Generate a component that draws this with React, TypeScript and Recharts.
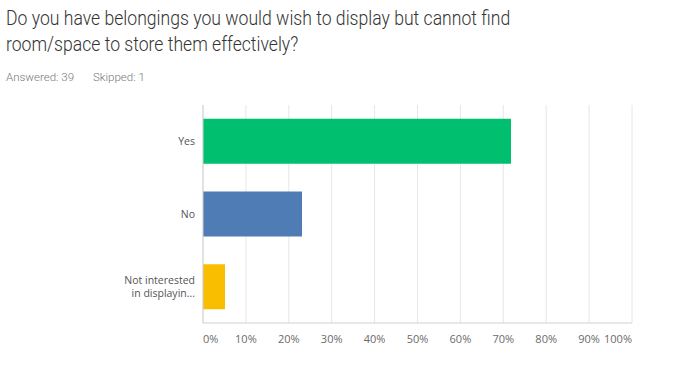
import React from 'react';
import { BarChart, Bar, XAxis, YAxis, CartesianGrid, Cell } from 'recharts';

const categories = ['Yes', 'No', 'Not interested\nin displayin...'];
const percents = [71.79, 23.08, 5.13];
const colors = ['#00BF6F', '#507CB6', '#F9BE00'];
const xTicks = [0, 10, 20, 30, 40, 50, 60, 70, 80, 90, 100];
const titleLines = ['Do you have belongings you would wish to display but cannot find', 'room/space to store them effectively?'];
const answeredText = 'Answered: 39';
const skippedText = 'Skipped: 1';

const data = categories.map((name, i) => ({ name, value: percents[i] }));

const XTick = (props: any) => {
  const { x, y, payload } = props;
  const v = payload.value;
  const anchor = v === 0 ? 'start' : v === 100 ? 'end' : 'middle';
  return (
    <text x={x} y={y} dy={12} textAnchor={anchor} fontSize={11} fill="#6b6b6b" fontFamily="'Open Sans', sans-serif">
      {v + '%'}
    </text>
  );
};

const YTick = (props: any) => {
  const { x, y, payload } = props;
  const lines = String(payload.value).split('\n');
  const lh = 13;
  const start = -((lines.length - 1) * lh) / 2;
  return (
    <text x={x} y={y} textAnchor="end" fontSize={10.5} fill="#555" fontFamily="'Open Sans', sans-serif">
      {lines.map((l, i) => (
        <tspan key={i} x={x} dy={i === 0 ? start + 4 : lh}>{l}</tspan>
      ))}
    </text>
  );
};

export default function App() {
  return (
    <div style={{ position: 'fixed', left: 0, top: 0, width: 679, height: 365, background: '#fff', overflow: 'hidden' }}>
      <div style={{ position: 'absolute', left: 6, top: 5, fontFamily: "Roboto, sans-serif", fontWeight: 300, fontSize: 20, lineHeight: '26px', color: '#333', whiteSpace: 'nowrap', transform: 'scaleX(0.88)', transformOrigin: '0 0' }}>
        {titleLines.map((l, i) => <div key={i}>{l}</div>)}
      </div>
      <div style={{ position: 'absolute', left: 6, top: 70, fontFamily: "Roboto, sans-serif", fontWeight: 300, fontSize: 11.5, color: '#777', whiteSpace: 'pre' }}>
        <span>{answeredText}</span>
        <span style={{ marginLeft: 19 }}>{skippedText}</span>
      </div>
      <div style={{ position: 'absolute', left: 0, top: 0 }}>
        <BarChart width={679} height={365} data={data} layout="vertical" barCategoryGap="19%"
          margin={{ top: 105, right: 47, bottom: 12, left: 0 }}>
          <CartesianGrid horizontal={false} stroke="#e6e6e6" />
          <XAxis type="number" domain={[0, 100]} ticks={xTicks} interval={0} axisLine={{ stroke: '#d0d0d0' }} tickLine={false} tick={<XTick />} />
          <YAxis type="category" dataKey="name" width={203} axisLine={{ stroke: '#d0d0d0' }} tickLine={false} tick={<YTick />} tickMargin={2} />
          <Bar dataKey="value" isAnimationActive={false}>
            {data.map((d, i) => (
              <Cell key={i} fill={colors[i]} />
            ))}
          </Bar>
        </BarChart>
      </div>
    </div>
  );
}
